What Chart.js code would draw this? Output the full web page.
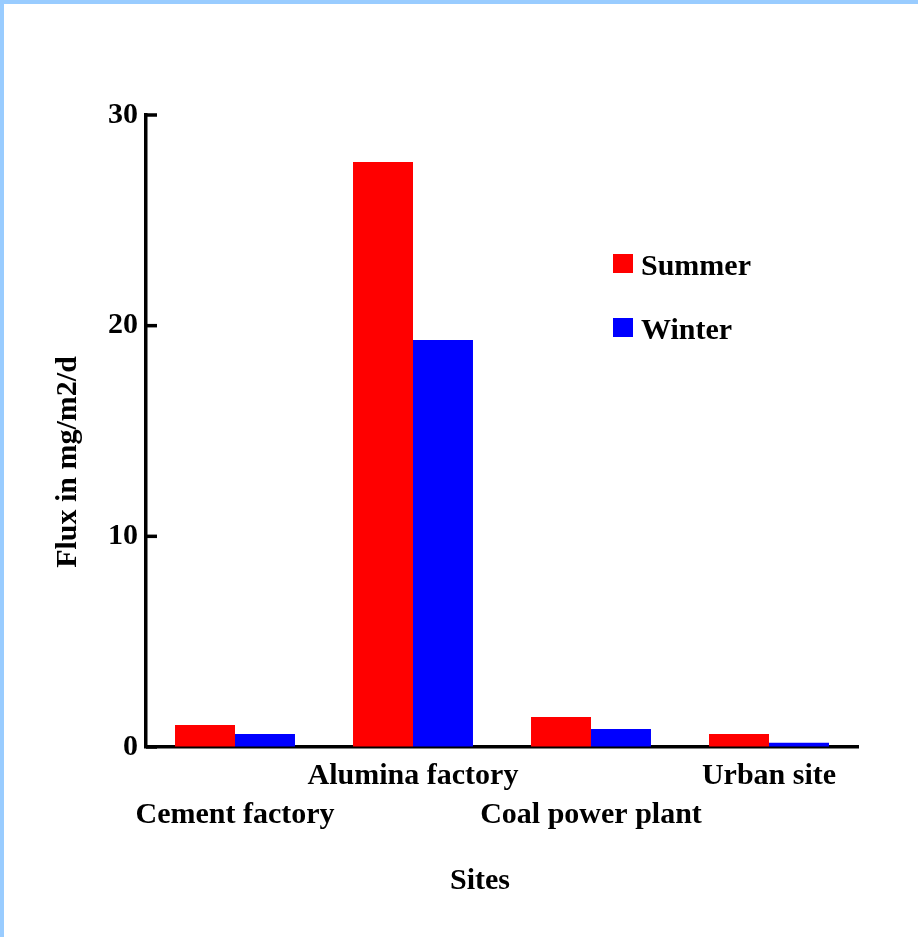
<!DOCTYPE html>
<html>
<head>
<meta charset="utf-8">
<script src="https://cdn.jsdelivr.net/npm/chart.js@4"></script>
<style>
  html, body { margin: 0; padding: 0; background: #fff; }
  #frame { width: 914px; height: 933px; border-top: 4px solid #99ccff; border-left: 4px solid #99ccff; }
  canvas { display: block; }
</style>
</head>
<body>
<div id="frame"><canvas id="chart" width="914" height="933"></canvas></div>
<script>
// data
const sites = [['', 'Cement factory'], 'Alumina factory', ['', 'Coal power plant'], 'Urban site'];
const summer = [1.04, 27.77, 1.42, 0.62];
const winter = [0.62, 19.32, 0.85, 0.2];
const yTicks = [0, 10, 20, 30];
const yTitle = 'Flux in mg/m2/d';
const xTitle = 'Sites';

const FONT_FAMILY = '"Liberation Serif", "Times New Roman", serif';
const FONT = 'bold 30px ' + FONT_FAMILY;

// inward ticks, legend inside the plot, axis titles
const extras = {
  id: 'extras',
  afterDraw(chart) {
    const ctx = chart.ctx;
    const area = chart.chartArea;
    const y = chart.scales.y;
    ctx.save();
    ctx.strokeStyle = '#000';
    ctx.lineWidth = 3.5;
    yTicks.forEach(v => {
      const py = y.getPixelForValue(v);
      ctx.beginPath();
      ctx.moveTo(area.left, py);
      ctx.lineTo(area.left + 11, py);
      ctx.stroke();
    });

    ctx.font = FONT;
    ctx.textAlign = 'left';
    ctx.textBaseline = 'alphabetic';
    chart.data.datasets.forEach((ds, i) => {
      const top = 250 + i * 64;
      ctx.fillStyle = ds.backgroundColor;
      ctx.fillRect(609, top, 20, 19);
      ctx.fillStyle = '#000';
      ctx.fillText(ds.label, 637, top + 21);
    });

    ctx.textAlign = 'center';
    ctx.fillText(xTitle, 476, 885);
    ctx.translate(72, 458);
    ctx.rotate(-Math.PI / 2);
    ctx.fillText(yTitle, 0, 0);
    ctx.restore();
  }
};

new Chart(document.getElementById('chart'), {
  type: 'bar',
  data: {
    labels: sites,
    datasets: [
      { label: 'Summer', data: summer, backgroundColor: '#ff0000' },
      { label: 'Winter', data: winter, backgroundColor: '#0000ff' }
    ]
  },
  options: {
    responsive: false,
    animation: false,
    layout: { padding: { top: 111, right: 60, left: 0, bottom: 0 } },
    datasets: { bar: { categoryPercentage: 0.674, barPercentage: 1 } },
    plugins: { legend: { display: false }, tooltip: { enabled: false } },
    scales: {
      x: {
        z: 1,
        grid: { display: false, drawTicks: false },
        border: { color: '#000', width: 3.5 },
        ticks: { color: '#000', padding: 10, maxRotation: 0, autoSkip: false,
                 font: { family: FONT_FAMILY, size: 30, weight: 'bold', lineHeight: 1.3 } },
        afterFit: s => { s.height = 190; }
      },
      y: {
        min: 0, max: 30,
        grid: { drawOnChartArea: false, drawTicks: false },
        border: { color: '#000', width: 3.5 },
        ticks: { stepSize: 10, color: '#000', padding: 8,
                 font: { family: FONT_FAMILY, size: 30, weight: 'bold' } },
        afterFit: s => { s.width = 142; }
      }
    }
  },
  plugins: [extras]
});
</script>
</body>
</html>
